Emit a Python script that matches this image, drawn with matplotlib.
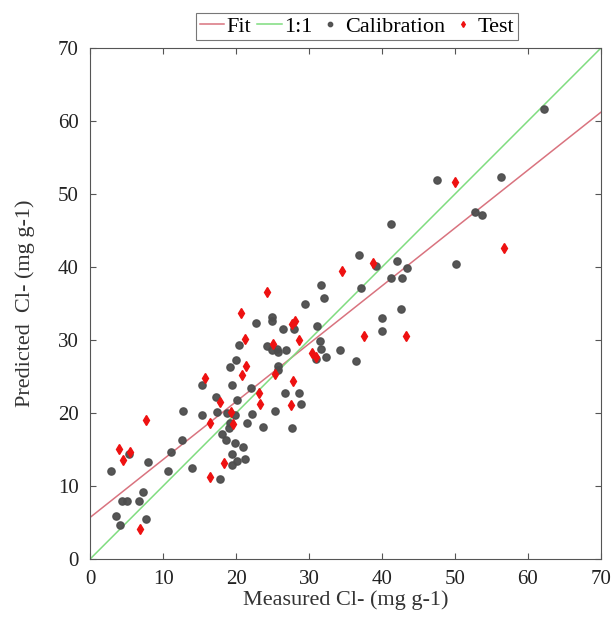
import matplotlib
matplotlib.use("Agg")
import matplotlib.pyplot as plt
import numpy as np

# -------------------- Data -------------------- #

cal_measured = [
    62.2, 47.5, 56.3, 52.7, 53.7, 41.2, 36.8, 39.2, 42.1, 43.4, 50.2, 41.3, 42.8,
    37.1, 42.6, 40.0, 40.0, 34.2, 36.5,
    31.6, 32.1, 29.5, 24.9, 25.0, 22.8, 28.0, 26.5, 31.1, 31.5, 20.4, 24.3, 25.6,
    24.9, 26.8, 25.7, 31.7, 31.0, 32.4, 20.0, 19.2, 25.7, 25.8, 15.4, 19.4, 22.0,
    17.3, 26.7, 28.6, 20.2, 28.9, 12.8, 15.3, 17.4, 18.8, 19.9, 22.2, 25.3, 27.7,
    19.2, 21.5, 23.7, 19.0, 18.1, 18.6, 19.9, 20.9, 12.6,
    11.1, 19.5, 21.2, 20.2, 19.5, 10.7, 13.9, 17.8,
    5.3, 7.9, 2.9, 7.3, 4.4, 5.0, 6.7, 3.6, 7.6, 4.1,
]
cal_predicted = [
    61.6, 51.9, 52.3, 47.5, 47.1, 45.9, 41.6, 40.1, 40.9, 39.9, 40.4, 38.5, 38.5,
    37.1, 34.2, 33.0, 31.3, 28.7, 27.1,
    37.6, 35.8, 35.0, 33.2, 32.6, 32.3, 31.5, 31.5, 31.9, 29.9, 29.3, 29.2, 28.8,
    28.7, 28.6, 28.4, 28.8, 27.4, 27.7, 27.3, 26.3, 26.4, 25.9, 23.8, 23.9, 23.5,
    22.2, 22.7, 22.7, 21.8, 21.3, 20.3, 19.7, 20.2, 20.0, 19.8, 19.9, 20.3, 17.9,
    18.7, 18.6, 18.1, 18.0, 17.1, 16.3, 15.9, 15.3, 16.3,
    14.6, 14.4, 13.7, 13.5, 12.9, 12.1, 12.5, 11.0,
    14.4, 13.3, 12.0, 9.2, 7.9, 7.9, 7.9, 5.9, 5.5, 4.6,
]

test_measured = [
    50.0, 56.7, 38.8, 34.5, 37.5, 43.3, 24.2, 20.7, 28.1, 27.7, 21.2, 28.7, 25.1,
    30.4, 31.0, 21.4, 25.3, 20.8, 15.8, 27.8, 23.1, 17.8, 23.3, 27.6, 19.3, 16.5,
    19.6, 18.3, 16.5, 4.0, 5.4, 4.5, 6.8, 7.6,
]
test_predicted = [
    51.6, 42.6, 40.5, 39.5, 30.6, 30.6, 36.6, 33.7, 32.6, 32.2, 30.1, 30.0, 29.4,
    28.2, 27.7, 26.5, 25.3, 25.2, 24.8, 24.4, 22.7, 21.5, 21.3, 21.1, 20.1, 18.7,
    18.5, 13.2, 11.2, 15.1, 14.6, 13.6, 4.1, 19.1,
]

# fitted regression line (coefficients)
fit_slope = 0.793
fit_intercept = 5.7

axis_range = [0, 70]
ticks = [0, 10, 20, 30, 40, 50, 60, 70]

# -------------------- Plot -------------------- #

plt.rcParams["font.family"] = ["Liberation Serif", "DejaVu Serif"]

fig = plt.figure(figsize=(6.13, 6.26), dpi=100)
ax = fig.add_axes([0.147, 0.107, 0.833, 0.816])

line_x = np.array(axis_range, dtype=float)
ax.plot(line_x, fit_slope * line_x + fit_intercept, color="#d9737f", lw=1.1, label="Fit")
ax.plot(line_x, line_x, color="#7fdc7f", lw=1.1, label="1:1")
ax.plot(cal_measured, cal_predicted, "o", color="#4d4d4d", ms=5.2, mec="#4d4d4d",
        alpha=0.95, label="Calibration")
ax.plot(test_measured, test_predicted, "d", color="#ee1111", ms=5.0, mec="#ee1111",
        label="Test")

ax.set_xlim(axis_range)
ax.set_ylim(axis_range)
ax.set_xticks(ticks)
ax.set_yticks(ticks)
ax.tick_params(direction="in", top=True, right=True, labelsize=15, length=4,
               color="#555555", pad=8, labelcolor="#222222")
for sp in ax.spines.values():
    sp.set_color("#555555")
    sp.set_linewidth(0.8)

ax.set_xlabel("Measured Cl- (mg g-1)", fontsize=16, color="#333333", labelpad=1)
ax.set_ylabel("Predicted  Cl- (mg g-1)", fontsize=16, color="#333333", labelpad=17)

leg = ax.legend(loc="lower center", bbox_to_anchor=(0.523, 1.016), borderaxespad=0,
                ncol=4, fontsize=16, frameon=True, fancybox=False,
                edgecolor="#555555", borderpad=0.15, handlelength=1.1,
                handletextpad=0.12, columnspacing=0.25, markerscale=0.6)
leg.get_frame().set_linewidth(0.8)

fig.savefig("out.png", dpi=100)
